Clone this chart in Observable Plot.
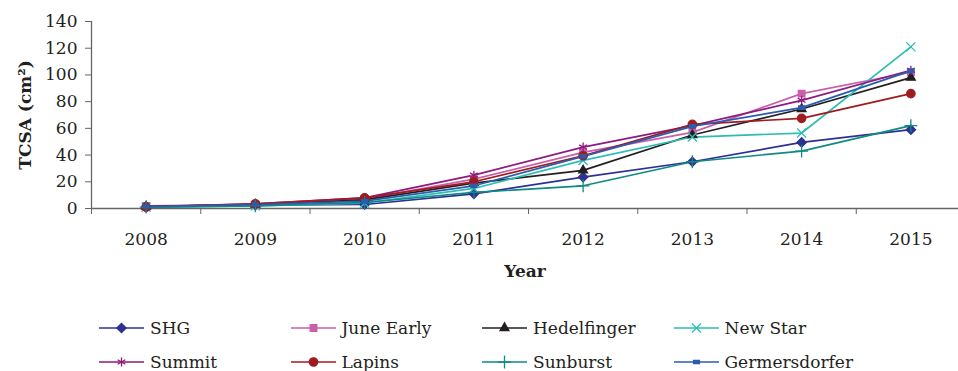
<!DOCTYPE html>
<html>
<head>
<meta charset="utf-8">
<script src="https://cdn.jsdelivr.net/npm/d3@7"></script>
<script src="https://cdn.jsdelivr.net/npm/@observablehq/plot@0.6"></script>
<style>
  body { margin: 0; background: #fff; font-family: "DejaVu Serif", serif; color: #231f20; }
  #legend { display: grid; grid-template-columns: repeat(4, 191.5px); padding-left: 99px; padding-top: 21px; }
  .item { display: flex; align-items: center; height: 34px; font-size: 17px; white-space: nowrap; }
  .item svg { margin-right: 6px; flex: none; }
</style>
</head>
<body>
<div id="chart"></div>
<div id="legend"></div>
<script>
const years = [2008, 2009, 2010, 2011, 2012, 2013, 2014, 2015];
const seriesNames = ["SHG", "June Early", "Hedelfinger", "New Star", "Summit", "Lapins", "Sunburst", "Germersdorfer"];
const SHG          = [1, 2.5, 3, 11, 23.5, 35, 49.5, 59];
const JuneEarly    = [2, 3, 7, 22, 42, 57, 86, 102];
const Hedelfinger  = [1.5, 3, 6.5, 19, 28.5, 55, 74.5, 98];
const NewStar      = [1, 2, 4, 15, 36, 53.5, 56.5, 121];
const Summit       = [1.5, 3.5, 8, 25, 46, 62, 81, 103.5];
const Lapins       = [1, 3.5, 8, 20, 39.5, 63, 67.5, 86];
const Sunburst     = [1, 2, 4.5, 12, 17, 35, 43, 62];
const Germersdorfer= [1.5, 3, 5.5, 17, 39, 61.5, 75.5, 103];
const yTicks = [0, 20, 40, 60, 80, 100, 120, 140];

const colors = ["#2e3192", "#c85fa8", "#231f20", "#2dbdb5", "#8e1a7d", "#9e1b20", "#108a84", "#2b5cae"];
const dashSymbol = {
  draw(context, size) {
    const r = Math.sqrt(size / Math.PI);
    context.rect(-r * 0.7, -r * 0.4, r * 1.4, r * 0.8);
  }
};
const symbols = ["diamond2", "square2", "triangle2", "times", "asterisk", "circle", "plus", dashSymbol];

const values = [SHG, JuneEarly, Hedelfinger, NewStar, Summit, Lapins, Sunburst, Germersdorfer];
const data = [];
seriesNames.forEach((s, i) => years.forEach((y, j) => data.push({series: s, year: y, value: values[i][j]})));

const boundaries = d3.range(2007.5, 2016, 1);

const chart = Plot.plot({
  width: 958,
  height: 290,
  marginLeft: 91,
  marginRight: 0,
  marginTop: 21,
  marginBottom: 82,
  style: { fontFamily: "DejaVu Serif, serif", fontSize: "17px", color: "#231f20", background: "#fff", overflow: "hidden" },
  x: { type: "linear", domain: [2007.5, 2015.5], range: [91, 965], label: null },
  y: { domain: [0, 140], label: null },
  color: { domain: seriesNames, range: colors },
  symbol: { domain: seriesNames, range: symbols },
  marks: [
    Plot.axisY(yTicks, { tickSize: 6, tickPadding: 8, stroke: "#666", fill: "#231f20", label: null, fontSize: 17 }),
    Plot.axisX(boundaries, { tickSize: 6, tickFormat: () => "", stroke: "#666", label: null }),
    Plot.axisX(years, { tickSize: 0, tickPadding: 24, tickFormat: d => String(d), fill: "#231f20", label: null, fontSize: 17 }),
    Plot.ruleX([2007.5], { y1: 0, y2: 140, stroke: "#666", strokeWidth: 1.3 }),
    Plot.ruleY([0], { stroke: "#666", strokeWidth: 1.3 }),
    Plot.line(data, { x: "year", y: "value", z: "series", stroke: "series", strokeWidth: 1.7 }),
    Plot.dot(data, { x: "year", y: "value", symbol: "series", fill: "series", stroke: "series", r: 4.2, strokeWidth: 1.3 }),
    Plot.text(["Year"], { frameAnchor: "bottom", dy: 68, fontWeight: "bold", fontSize: 17, fill: "#231f20" }),
    Plot.text(["TCSA (cm²)"], { frameAnchor: "left", textAnchor: "middle", dx: -66, rotate: -90, fontWeight: "bold", fontSize: 17, fill: "#231f20" })
  ]
});
document.getElementById("chart").appendChild(chart);

// Legend
const legend = d3.select("#legend");
const symMap = { diamond2: d3.symbolDiamond2, square2: d3.symbolSquare2, triangle2: d3.symbolTriangle2, times: d3.symbolTimes, asterisk: d3.symbolAsterisk, circle: d3.symbolCircle, plus: d3.symbolPlus };
seriesNames.forEach((s, i) => {
  const item = legend.append("div").attr("class", "item");
  const svg = item.append("svg").attr("width", 45).attr("height", 14);
  svg.append("line").attr("x1", 0).attr("x2", 45).attr("y1", 7).attr("y2", 7).attr("stroke", colors[i]).attr("stroke-width", 1.6);
  const sym = typeof symbols[i] === "string" ? symMap[symbols[i]] : symbols[i];
  svg.append("path").attr("transform", "translate(22.5,7)")
    .attr("d", d3.symbol(sym, Math.PI * 4.2 * 4.2)())
    .attr("fill", colors[i]).attr("stroke", colors[i]).attr("stroke-width", 1.3);
  item.append("span").text(s);
});
</script>
</body>
</html>
